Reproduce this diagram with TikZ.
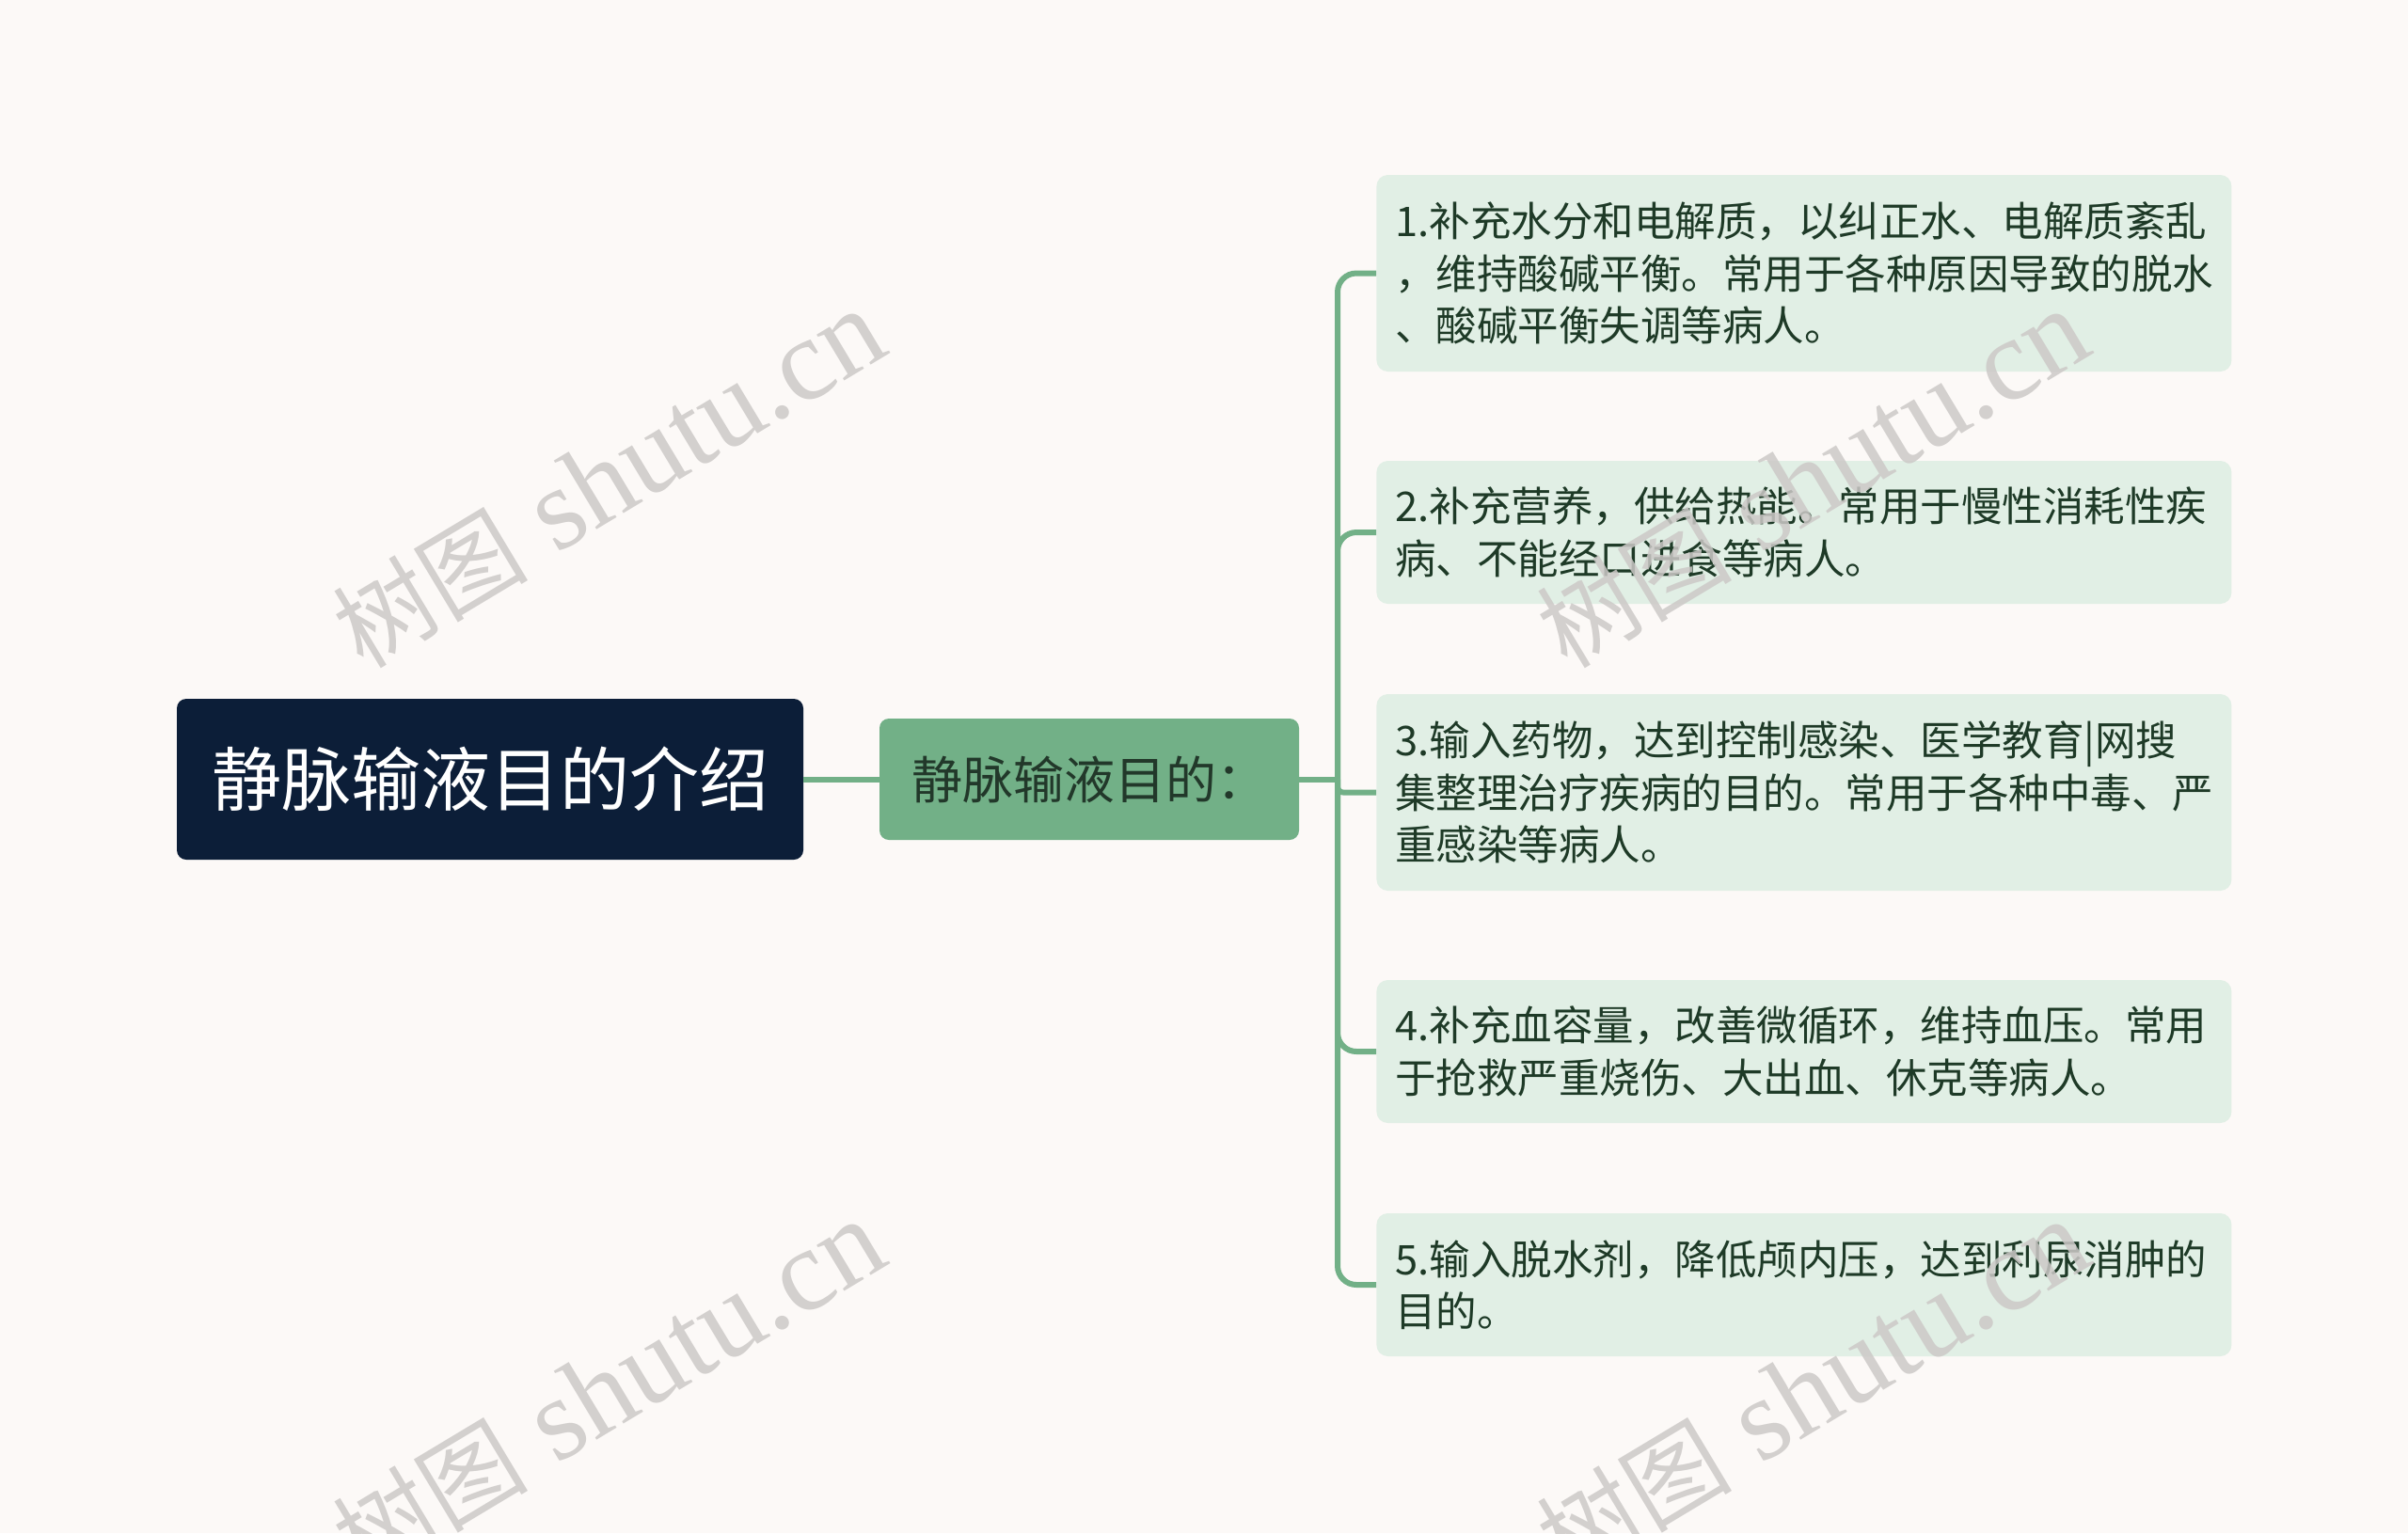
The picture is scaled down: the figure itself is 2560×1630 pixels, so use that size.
\documentclass[tikz,border=0pt]{standalone}
\usepackage{fontspec}
\setmainfont{Noto Sans CJK SC}
\newfontfamily\cjk{Noto Sans CJK SC}
\newfontfamily\wmfont{Liberation Serif}
\definecolor{bgc}{HTML}{FCF9F7}
\definecolor{rootc}{HTML}{0C1E38}
\definecolor{midc}{HTML}{72B087}
\definecolor{leafc}{HTML}{E1EFE5}
\definecolor{leaftext}{HTML}{1E3A27}
\definecolor{midtext}{HTML}{22382A}
\definecolor{wmc}{HTML}{CCC9C7}
\tikzset{
  rootbox/.style={fill=rootc, rounded corners=5pt, minimum width=333pt, minimum height=85.5pt,
    inner sep=0pt, text=white, font=\fontsize{37}{42}\selectfont},
  midbox/.style={fill=midc, rounded corners=5pt, minimum width=223pt, minimum height=64.5pt,
    inner sep=0pt, text=midtext, font=\fontsize{27}{30}\selectfont},
  leafbox/.style={fill=leafc, rounded corners=6pt, anchor=west, minimum width=454.5pt,
    text width=434.5pt, inner xsep=10pt, inner ysep=0pt, align=left, text=leaftext,
    font=\fontsize{21.75}{27.75}\selectfont},
  conn/.style={draw=midc, line width=3pt},
  wm/.style={rotate=31, text=wmc, opacity=0.85, inner sep=0pt}
}
\newcommand{\wmtext}{{\cjk\fontsize{52}{56}\selectfont 树图}{\wmfont\fontsize{62}{64}\selectfont\ shutu.cn}}
\begin{document}
\begin{tikzpicture}[x=0.5pt,y=-0.5pt]
\fill[bgc] (0,0) rectangle (2560,1630);
\useasboundingbox (0,0) rectangle (2560,1630);

\node[rootbox] (root) at (521,828.5) {静脉输液目的介绍};
\node[midbox] (mid) at (1158,828.5) {静脉输液目的：};

\node[leafbox, minimum height=104.5pt] (l1) at (1463,290.5)
  {1.补充水分和电解质，以纠正水、电解质紊乱\\，维持酸碱平衡。常用于各种原因导致的脱水\\、酸碱平衡失调等病人。};
\node[leafbox, minimum height=76pt] (l2) at (1463,566)
  {2.补充营养，供给热能。常用于慢性消耗性疾\\病、不能经口进食等病人。};
\node[leafbox, minimum height=104.5pt] (l3) at (1463,842.5)
  {3.输入药物，达到控制感染、医学教育|网搜\\集整理治疗疾病的目的。常用于各种中毒、严\\重感染等病人。};
\node[leafbox, minimum height=76pt] (l4) at (1463,1118)
  {4.补充血容量，改善微循环，维持血压。常用\\于抢救严重烧伤、大出血、休克等病人。};
\node[leafbox, minimum height=76pt] (l5) at (1463,1366)
  {5.输入脱水剂，降低颅内压，达到利尿消肿的\\目的。};

\coordinate (tr) at (1422,828.5);
\draw[conn] (root.east) -- (mid.west);
\draw[conn] (mid.east) -- (tr);
\draw[conn, rounded corners=10pt] (tr) |- (l1.west);
\draw[conn, rounded corners=10pt] (tr) |- (l2.west);
\draw[conn, rounded corners=3pt] (tr) |- (l3.west);
\draw[conn, rounded corners=10pt] (tr) |- (l4.west);
\draw[conn, rounded corners=10pt] (tr) |- (l5.west);

\node[wm] (wm1) at (647,510) {\wmtext};
\node[wm] (wm2) at (1927,510) {\wmtext};
\node[wm] (wm3) at (647,1478) {\wmtext};
\node[wm] (wm4) at (1927,1478) {\wmtext};
\end{tikzpicture}
\end{document}
